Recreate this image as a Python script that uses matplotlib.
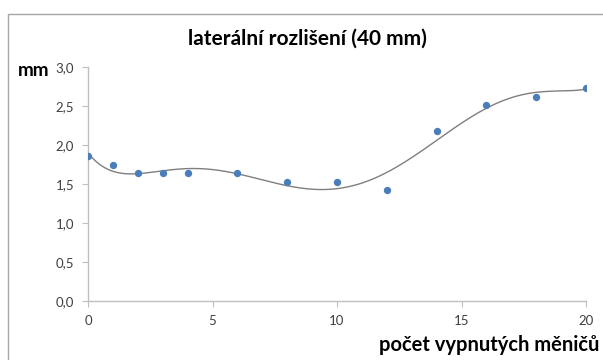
import numpy as np
import matplotlib
matplotlib.use("Agg")
import matplotlib.pyplot as plt
from matplotlib.patches import Rectangle

x_vals = [0, 1, 2, 3, 4, 6, 8, 10, 12, 14, 16, 18, 20]
y_vals = [1.86, 1.74, 1.64, 1.64, 1.64, 1.64, 1.53, 1.53, 1.42, 2.18, 2.51, 2.62, 2.73]
x_ticks = [0, 5, 10, 15, 20]
y_ticks = [0.0, 0.5, 1.0, 1.5, 2.0, 2.5, 3.0]
y_tick_labels = ["0,0", "0,5", "1,0", "1,5", "2,0", "2,5", "3,0"]
title = "laterální rozlišení (40 mm)"
x_label = "počet vypnutých měničů"
y_label = "mm"

plt.rcParams['font.family'] = ['Lato', 'DejaVu Sans']

fig = plt.figure(figsize=(6.03, 3.6), dpi=100)
fig.patches.append(Rectangle((8/603, -0.1), 1.1, 1 - 14/360 + 0.1, transform=fig.transFigure,
                             fill=False, edgecolor='#a6a6a6', linewidth=1.0))

ax = fig.add_axes([88/603, 1 - 301/360, (586 - 88)/603, (301 - 67)/360])

coef = np.polyfit(x_vals, y_vals, 6)
xs = np.linspace(0, 20, 300)
ax.plot(xs, np.polyval(coef, xs), color='#7f7f7f', linewidth=1.0, zorder=2)
ax.scatter(x_vals, y_vals, s=28, color='#4a7ebb', zorder=3, linewidths=0)

ax.set_xlim(0, 20)
ax.set_ylim(0, 3.0)
ax.set_xticks(x_ticks)
ax.set_yticks(y_ticks)
ax.set_yticklabels(y_tick_labels)
for s in ['top', 'right']:
    ax.spines[s].set_visible(False)
for s in ['left', 'bottom']:
    ax.spines[s].set_color('#bfbfbf')
    ax.spines[s].set_linewidth(1.0)
ax.tick_params(axis='both', colors='#bfbfbf', labelcolor='#404040', labelsize=9.5,
               length=4, direction='out')
ax.tick_params(axis='x', pad=6)
ax.tick_params(axis='y', pad=6)

fig.text(307/603, 1 - 39/360, title, ha='center', va='center', fontsize=15,
         fontweight='bold', color='#000000')
fig.text(18/603, 1 - 71/360, y_label, ha='left', va='center', fontsize=13.5,
         fontweight='bold', color='#000000')
fig.text(599/603, 1 - 345/360, x_label, ha='right', va='center', fontsize=14.5,
         fontweight='bold', color='#000000')

fig.savefig('out.png', dpi=100)
